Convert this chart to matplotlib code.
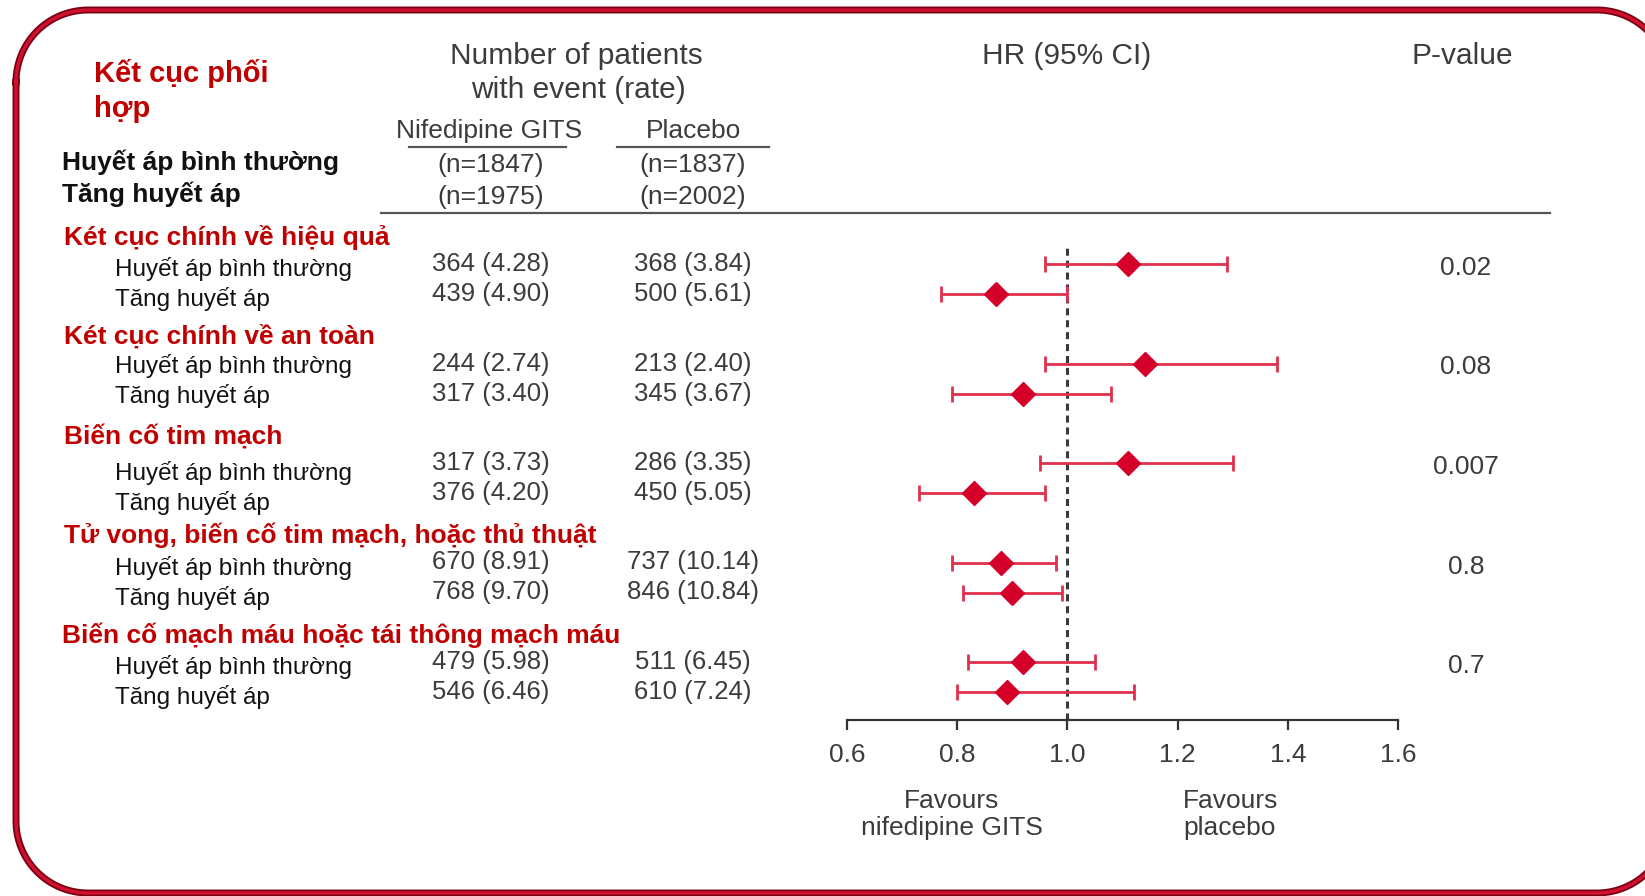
import numpy as np
import matplotlib
matplotlib.use("Agg")
import matplotlib.pyplot as plt

plt.rcParams["font.family"] = ["Liberation Sans", "DejaVu Sans"]

W, H = 1645, 896

# ---- data ----
groups = ["Két cục chính về hiệu quả", "Két cục chính về an toàn", "Biến cố tim mạch",
          "Tử vong, biến cố tim mạch, hoặc thủ thuật", "Biến cố mạch máu hoặc tái thông mạch máu"]
subgroups = ["Huyết áp bình thường", "Tăng huyết áp"]
n_nif = [1847, 1975]
n_pla = [1837, 2002]
events_nif = [364, 439, 244, 317, 317, 376, 670, 768, 479, 546]
rate_nif = [4.28, 4.90, 2.74, 3.40, 3.73, 4.20, 8.91, 9.70, 5.98, 6.46]
events_pla = [368, 500, 213, 345, 286, 450, 737, 846, 511, 610]
rate_pla = [3.84, 5.61, 2.40, 3.67, 3.35, 5.05, 10.14, 10.84, 6.45, 7.24]
hr = np.array([1.11, 0.87, 1.14, 0.92, 1.11, 0.83, 0.88, 0.90, 0.92, 0.89])
ci_lo = np.array([0.96, 0.77, 0.96, 0.79, 0.95, 0.73, 0.79, 0.81, 0.82, 0.80])
ci_hi = np.array([1.29, 1.00, 1.38, 1.08, 1.30, 0.96, 0.98, 0.99, 1.05, 1.12])
p_values = ["0.02", "0.08", "0.007", "0.8", "0.7"]
ticks = [0.6, 0.8, 1.0, 1.2, 1.4, 1.6]

RED = "#c00000"
GRAY = "#3c3c3c"
LINE_RED = "#e0304e"
DIAMOND = "#d4002a"

fig = plt.figure(figsize=(W / 100, H / 100), dpi=100)
bg = fig.add_axes([0, 0, 1, 1])
bg.set_xlim(0, W); bg.set_ylim(H, 0); bg.axis("off")


def rounded_frame(xl, xr, yt, yb, r, n=30):
    # outline of a rounded rectangle in pixel coords (y down)
    def arc(cx, cy, a0, a1):
        a = np.radians(np.linspace(a0, a1, n))
        return cx + r * np.cos(a), cy - r * np.sin(a)
    parts = [arc(xl + r, yt + r, 180, 90), arc(xr - r, yt + r, 90, 0),
             arc(xr - r, yb - r, 0, -90), arc(xl + r, yb - r, -90, -180)]
    xs = np.concatenate([p[0] for p in parts] + [parts[0][0][:1]])
    ys = np.concatenate([p[1] for p in parts] + [parts[0][1][:1]])
    return xs, ys


# slide frame, right side runs off the canvas
fx, fy = rounded_frame(16, 1669, 10, 893, 72)
bg.plot(fx, fy, color="#7a0014", lw=5, solid_joinstyle="round")
bg.plot(fx, fy, color="#d0102e", lw=2.4, solid_joinstyle="round")


def txt(x, y, s, **kw):
    kw.setdefault("va", "center")
    bg.text(x, y + 3, s, **kw)


# headers
txt(94, 70, "Kết cục phối", color=RED, fontsize=21, fontweight="bold")
txt(94, 106, "hợp", color=RED, fontsize=21, fontweight="bold")
txt(576, 53, "Number of patients", color=GRAY, fontsize=21.5, ha="center")
txt(578, 87, "with event (rate)", color=GRAY, fontsize=21.5, ha="center")
txt(1067, 53, "HR (95% CI)", color=GRAY, fontsize=21.5, ha="center")
txt(1462, 53, "P-value", color=GRAY, fontsize=21.5, ha="center")
col_nif, col_pla = 491, 693
txt(489, 128, "Nifedipine GITS", color=GRAY, fontsize=19, ha="center")
txt(col_pla, 128, "Placebo", color=GRAY, fontsize=19, ha="center")
bg.plot([409, 566], [147, 147], color="#555", lw=1.6)
bg.plot([617, 769], [147, 147], color="#555", lw=1.6)
bg.plot([381, 1550], [213, 213], color="#555", lw=1.6)
for i, (lab, a, b) in enumerate(zip(subgroups, n_nif, n_pla)):
    y = 159 + 32 * i
    txt(62, y, lab, color="#111", fontsize=19, fontweight="bold")
    txt(col_nif, y + 3, f"(n={a})", color=GRAY, fontsize=19, ha="center")
    txt(col_pla, y + 3, f"(n={b})", color=GRAY, fontsize=19, ha="center")

# table rows
row_y = np.array([264 + 99.5 * g + 30 * s for g in range(len(groups)) for s in range(2)])
label_shift = [2, -1, 7, 3, 2]
for g, name in enumerate(groups):
    y0 = row_y[2 * g]
    txt(62 if g == 4 else 64, y0 - 30, name, color=RED, fontsize=19, fontweight="bold")
    txt(1466, y0 + 1, p_values[g], color=GRAY, fontsize=19, ha="center")
    for s in range(2):
        k = 2 * g + s
        y = row_y[k]
        txt(115, y + label_shift[g], subgroups[s], color="#111", fontsize=17.5)
        txt(col_nif, y - 3, f"{events_nif[k]} ({rate_nif[k]:.2f})", color=GRAY, fontsize=18.5, ha="center")
        txt(col_pla, y - 3, f"{events_pla[k]} ({rate_pla[k]:.2f})", color=GRAY, fontsize=18.5, ha="center")

# forest plot
fx0, fx1, fy_top, fy_bot = 847, 1398, 240, 720
ax = fig.add_axes([fx0 / W, 1 - fy_bot / H, (fx1 - fx0) / W, (fy_bot - fy_top) / H])
ax.patch.set_alpha(0)
ax.set_xlim(0.6, 1.6); ax.set_ylim(fy_bot, fy_top)
ax.axvline(1.0, ymin=0, ymax=(fy_bot - 245) / (fy_bot - fy_top), color="#3a3a3a",
           ls=(0, (2.3, 1.6)), lw=2.2, zorder=1)
ax.errorbar(hr, row_y, xerr=[hr - ci_lo, ci_hi - hr], fmt="none", ecolor=LINE_RED,
            elinewidth=2, capsize=6, capthick=2, zorder=2)
ax.plot(hr, row_y, "D", ms=12.5, color=DIAMOND, mec=DIAMOND, zorder=3)
for sp in ["top", "left", "right"]:
    ax.spines[sp].set_visible(False)
ax.spines["bottom"].set_color("#333"); ax.spines["bottom"].set_linewidth(1.6)
ax.set_yticks([])
ax.set_xticks(ticks)
ax.set_xticklabels([f"{t:.1f}" for t in ticks])
ax.tick_params(axis="x", direction="out", length=7.5, width=1.6, colors="#333",
               labelsize=19, pad=9, labelcolor=GRAY)

txt(952, 798, "Favours", color=GRAY, fontsize=19, ha="center")
txt(952, 825, "nifedipine GITS", color=GRAY, fontsize=19, ha="center")
txt(1183, 798, "Favours", color=GRAY, fontsize=19)
txt(1183, 825, "placebo", color=GRAY, fontsize=19)

fig.savefig("out.png", dpi=100)
